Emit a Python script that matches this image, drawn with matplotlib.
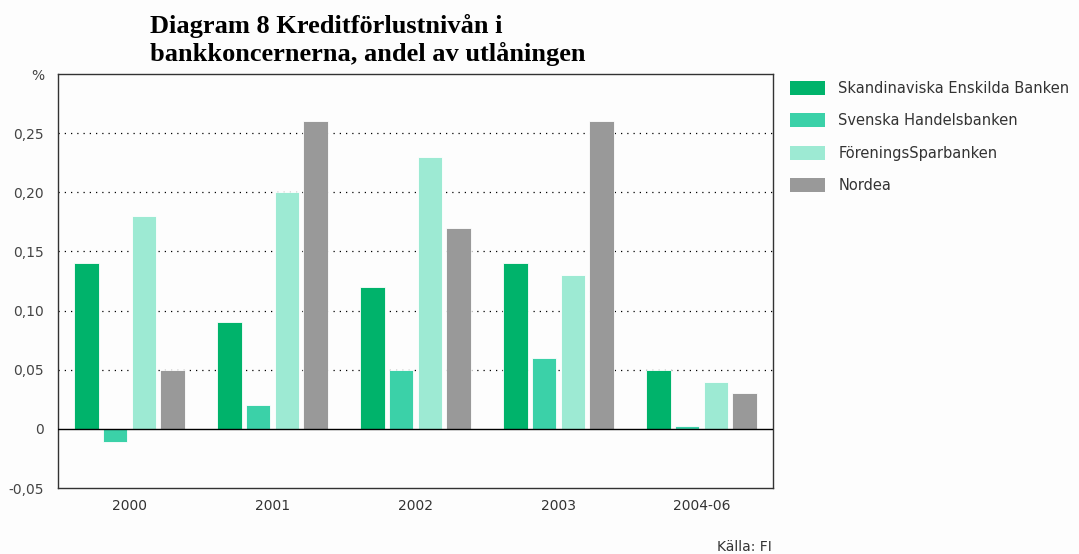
import numpy as np
import matplotlib.pyplot as plt
from matplotlib.patches import Patch

# Data (% of lending)
years = ['2000', '2001', '2002', '2003', '2004-06']
banks = ['Skandinaviska Enskilda Banken', 'Svenska Handelsbanken',
         'FöreningsSparbanken', 'Nordea']
seb = [0.14, 0.09, 0.12, 0.14, 0.05]
shb = [-0.011, 0.02, 0.05, 0.06, 0.002]
fsb = [0.18, 0.20, 0.23, 0.13, 0.04]
nordea = [0.05, 0.26, 0.17, 0.26, 0.03]
colors = ['#00b36b', '#3bd1a8', '#9dead3', '#999999']

yticks = [-0.05, 0, 0.05, 0.10, 0.15, 0.20, 0.25, 0.30]
yticklabels = ['-0,05', '0', '0,05', '0,10', '0,15', '0,20', '0,25', '%']

fig = plt.figure(figsize=(10.79, 5.54), dpi=100, facecolor='#fdfdfd')
ax = fig.add_axes([58 / 1079, 1 - 488 / 554, 715 / 1079, 414 / 554])
ax.set_facecolor('#fdfdfd')

x = np.arange(len(years))
width = 0.17
offsets = [-0.3, -0.1, 0.1, 0.3]
for vals, off, c in zip([seb, shb, fsb, nordea], offsets, colors):
    ax.bar(x + off, vals, width, color=c, edgecolor='white', linewidth=0.6, zorder=3)

# dotted gridlines
for yv in [0.05, 0.10, 0.15, 0.20, 0.25]:
    ax.axhline(yv, color='black', linestyle=(0, (1, 4)), linewidth=0.9, zorder=1)
ax.axhline(0, color='black', linewidth=1.0, zorder=4)

ax.set_xlim(-0.5, 4.5)
ax.set_ylim(-0.05, 0.30)
ax.set_xticks(x)
ax.set_xticklabels(years, fontsize=10, color='#333333')
ax.set_yticks(yticks)
ax.set_yticklabels(yticklabels, fontsize=10, color='#444444')
ax.tick_params(length=0, pad=10)
ax.tick_params(axis='x', pad=8)
for s in ax.spines.values():
    s.set_color('#333333')
    s.set_linewidth(1.0)

fig.text(150 / 1079, 1 - 14 / 554,
         'Diagram 8 Kreditförlustnivån i\nbankkoncernerna, andel av utlåningen',
         family='Liberation Serif', fontweight='bold', fontsize=19,
         va='top', ha='left', linespacing=1.2)

handles = [Patch(facecolor=c, edgecolor='none') for c in colors]
fig.legend(handles, banks, loc='upper left', bbox_to_anchor=(777 / 1079, 1 - 68 / 554),
           frameon=False, fontsize=10.5, handlelength=2.4, handleheight=1.1,
           labelspacing=1.18, handletextpad=0.9, labelcolor='#333333')

fig.text(772 / 1079, 1 - 547 / 554, 'Källa: FI', fontsize=10, color='#333333',
         ha='right', va='center')

fig.savefig('out.png', dpi=100, facecolor=fig.get_facecolor())
